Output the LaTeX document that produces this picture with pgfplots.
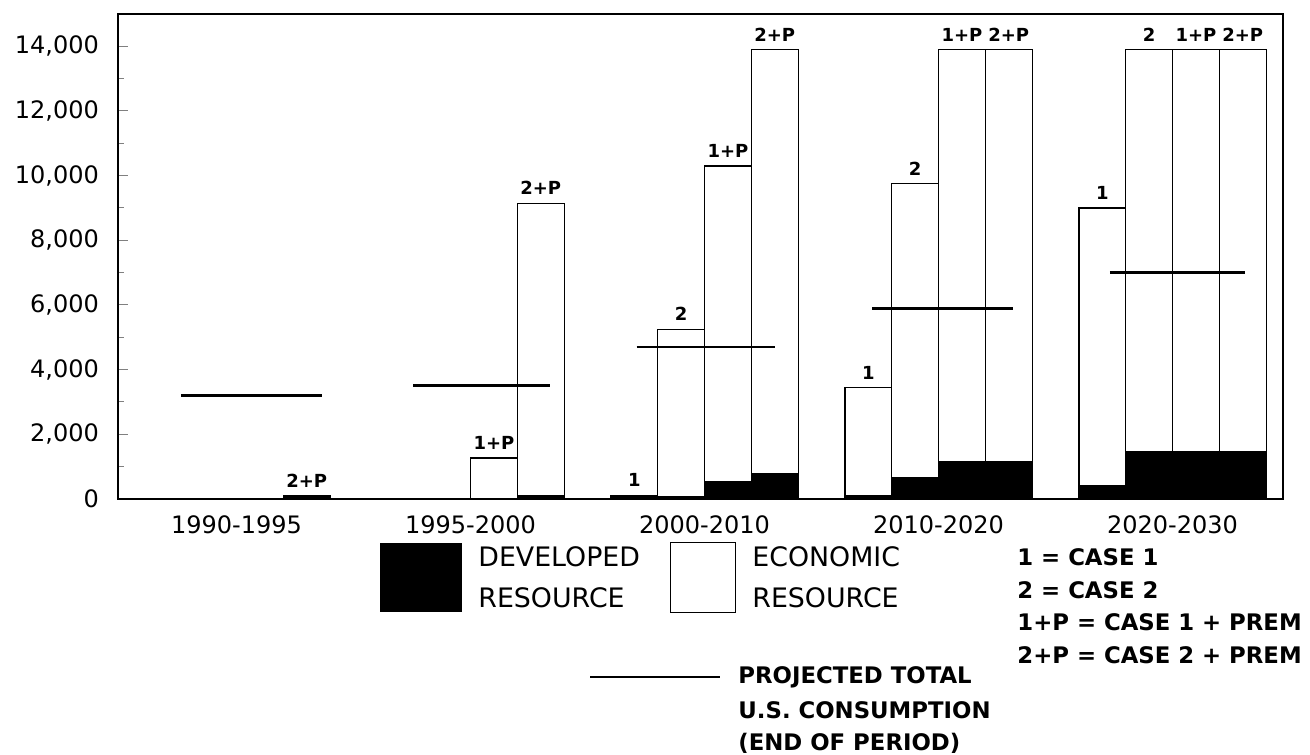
\documentclass[border=0pt]{standalone}
\usepackage{fontspec}
\setmainfont{DejaVu Sans}
\usepackage{pgfplots}
\pgfplotsset{compat=1.18}
\pgfplotstableread{
x y lab
3 100 2+P
7 1270 1+P
8 9150 2+P
10 120 1
11 5250 2
12 10300 1+P
13 13900 2+P
15 3450 1
16 9750 2
17 13900 1+P
18 13900 2+P
20 9000 1
21 13900 2
22 13900 1+P
23 13900 2+P
}\labtable
\begin{document}
\begin{tikzpicture}
\useasboundingbox (-59pt,-127.5pt) rectangle (596pt,249.5pt);
\begin{axis}[
  at={(0,0)}, anchor=south west,
  scale only axis, width=582.5pt, height=242.5pt,
  xmin=-1.034, xmax=23.86, ymin=0, ymax=15000,
  xtick={1.5,6.5,11.5,16.5,21.5},
  xticklabels={1990-1995,1995-2000,2000-2010,2010-2020,2020-2030},
  x tick style={draw=none},
  ytick={0,2000,...,14000},
  minor ytick={1000,3000,...,13000},
  scaled y ticks=false,
  tick align=inside,
  major tick length=5pt, minor tick length=3pt,
  ytick pos=left,
  y tick style={line width=0.5pt},
  /pgf/number format/assume math mode=true,
  /pgf/number format/1000 sep={,},
  ticklabel style={font=\fontsize{12}{14}\selectfont},
  yticklabel style={xshift=-6pt},
  xticklabel style={yshift=-5pt},
  axis line style={line width=0.9pt},
  bar width=1,
  clip=false,
]
\addplot[ybar, bar shift=0pt, bar width=1, fill=white, draw=black, line width=0.6pt]
  coordinates {(3,100)(7,1270)(8,9150)(10,120)(11,5250)(12,10300)(13,13900)
  (15,3450)(16,9750)(17,13900)(18,13900)(20,9000)(21,13900)(22,13900)(23,13900)};
\addplot[ybar, bar shift=0pt, bar width=1, fill=black, draw=black, line width=0.6pt]
  coordinates {(3,100)(8,100)(10,100)(11,80)(12,530)(13,780)
  (15,100)(16,650)(17,1150)(18,1150)(20,400)(21,1470)(22,1470)(23,1470)};
\addplot[draw=none, mark=none, nodes near coords, point meta=explicit symbolic,
  nodes near coords style={anchor=south, font=\bfseries\fontsize{9}{10}\selectfont, inner sep=0pt, yshift=4pt}]
  table[x=x, y=y, meta=lab] {\labtable};
\addplot[black, line width=1.4pt] coordinates {(0.31,3200)(3.32,3200)};
\addplot[black, line width=1.4pt] coordinates {(5.27,3500)(8.20,3500)};
\addplot[black, line width=1.4pt] coordinates {(10.05,4700)(13.0,4700)};
\addplot[black, line width=1.4pt] coordinates {(15.08,5900)(18.09,5900)};
\addplot[black, line width=1.4pt] coordinates {(20.16,7000)(23.05,7000)};
\end{axis}
% legend
\fill[black] (131pt,-22pt) rectangle (172pt,-56.5pt);
\draw[line width=0.5pt] (276pt,-22pt) rectangle (308.5pt,-56.5pt);
\node[anchor=west, inner sep=0pt, font=\fontsize{13.4}{15}\selectfont] at (180pt,-29pt) {DEVELOPED};
\node[anchor=west, inner sep=0pt, font=\fontsize{13.4}{15}\selectfont] at (180pt,-49.5pt) {RESOURCE};
\node[anchor=west, inner sep=0pt, font=\fontsize{13.4}{15}\selectfont] at (317pt,-29pt) {ECONOMIC};
\node[anchor=west, inner sep=0pt, font=\fontsize{13.4}{15}\selectfont] at (317pt,-49.5pt) {RESOURCE};
\begin{scope}[every node/.style={anchor=west, inner sep=0pt, font=\bfseries\fontsize{11.4}{13}\selectfont}]
\node at (449.5pt,-29pt) {1 = CASE 1};
\node at (449.5pt,-45.5pt) {2 = CASE 2};
\node at (449.5pt,-61.5pt) {1+P = CASE 1 + PREM};
\node at (449.5pt,-78pt) {2+P = CASE 2 + PREM};
\node at (310pt,-89pt) {PROJECTED TOTAL};
\node at (310pt,-105.5pt) {U.S. CONSUMPTION};
\node at (310pt,-122pt) {(END OF PERIOD)};
\end{scope}
\draw[line width=0.8pt] (236pt,-89pt) -- (301pt,-89pt);
\end{tikzpicture}
\end{document}
